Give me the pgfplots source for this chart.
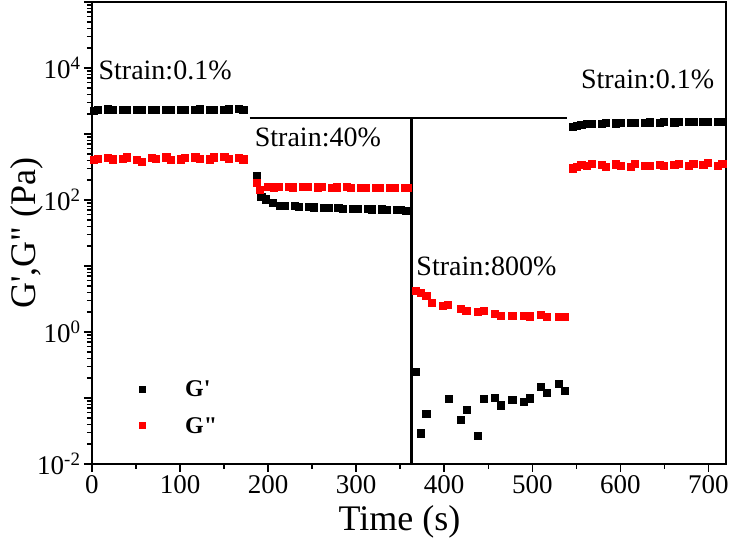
\documentclass[border=0pt]{standalone}
\usepackage{fontspec}
\setmainfont{Liberation Serif}
\usepackage{pgfplots}
\pgfplotsset{compat=1.18}
\usetikzlibrary{calc}
\begin{document}
\begin{tikzpicture}
\begin{axis}[name=ax, scale only axis, width=634pt, height=462pt,
  ymode=log, xmin=0, xmax=720, ymin=1e-2, ymax=1e5,
  axis line style={line width=2.5pt},
  tick style={line width=1.5pt, black},
  major tick length=8pt, minor tick length=5pt,
  tick align=outside, xtick pos=left, ytick pos=left,
  xtick={0,100,200,300,400,500,600,700},
  minor xtick={50,150,250,350,450,550,650},
  ytick={1e-2,1e-1,1e0,1e1,1e2,1e3,1e4,1e5},
  yticklabels={10\textsuperscript{-2},,10\textsuperscript{0},,10\textsuperscript{2},,10\textsuperscript{4},},
  minor ytick={0.02,0.03,0.04,0.05,0.06,0.07,0.08,0.09,
    0.2,0.3,0.4,0.5,0.6,0.7,0.8,0.9,
    2,3,4,5,6,7,8,9,
    20,30,40,50,60,70,80,90,
    200,300,400,500,600,700,800,900,
    2000,3000,4000,5000,6000,7000,8000,9000,
    20000,30000,40000,50000,60000,70000,80000,90000},
  /pgf/number format/assume math mode=true,
  ticklabel style={font=\fontsize{27}{30}\selectfont},
  xlabel={Time (s)}, ylabel={G\textquotesingle,G\textquotedbl{} (Pa)},
  label style={font=\fontsize{36}{40}\selectfont},
  xlabel style={at={(axis description cs:0.485,-0.1255)}, anchor=center},
  ylabel style={at={(axis description cs:-0.1025,0.5)}, anchor=center},
  legend style={at={(rel axis cs:0.074,0.185)}, anchor=north west, draw=none, fill=none,
    font=\bfseries\fontsize{24}{28}\selectfont, row sep=15pt, inner sep=0pt,
    /tikz/every odd column/.append style={column sep=38pt}},
  legend image code/.code={\draw[#1, mark size=3pt] plot coordinates {(0pt,0pt)};},
  legend cell align=left,
]
% annotation lines
\addplot[black, line width=2pt, no marks, forget plot] coordinates {(179,1750) (539,1750)};
\addplot[black, line width=2.5pt, no marks, forget plot] coordinates {(363,1750) (363,0.01)};
% G'
\addplot[only marks, mark=square*, black, mark size=3.6pt, mark options={line width=0pt}] coordinates {
(2,2250)(7,2300)(18.5,2350)(23.5,2300)(35,2300)(40,2320)(51.5,2330)(56.5,2300)(68,2310)(73,2330)
(84.5,2300)(89.5,2340)(101,2320)(106,2310)(117.5,2330)(122.5,2350)(134,2340)(139,2320)(150.5,2330)(155.5,2350)
(167,2360)(172,2340)
(187,230)(192.6,112)(198,102)(205.8,89)(214,82)(219,81)(230.5,80)(235.5,79)(247,78)(252,77)
(263.5,76)(268.5,76)(280,75)(285,74)(296.5,74)(301.5,73)(313,73)(318,72)(329.5,72)(334.5,71)(346,70)(351,70)(357,69)
(367.8,0.25)(373.4,0.029)(379.9,0.057)(405.6,0.097)(419.2,0.047)(425.6,0.065)(438.1,0.0265)(445.3,0.097)
(457.8,0.101)(464.6,0.077)(477.5,0.092)(490.4,0.086)(497.5,0.098)(510.3,0.145)(516.7,0.12)(530.1,0.161)(536.9,0.128)
(546,1290)(551,1330)(556,1370)(562.5,1400)(567.5,1420)(579,1430)(584,1450)(595.5,1440)(600.5,1460)(612,1470)
(617,1450)(628.5,1480)(633.5,1490)(645,1470)(650,1500)(661.5,1490)(666.5,1510)(678,1500)(683,1520)(694.5,1500)
(699.5,1530)(711,1520)(716,1540)
};
% G''
\addplot[only marks, mark=square*, red, mark size=3.6pt, mark options={line width=0pt}] coordinates {
(2,400)(7,420)(18.5,430)(23.5,410)(35,420)(40,440)(51.5,400)(56.5,380)(68,430)(73,420)
(84.5,440)(89.5,400)(101,410)(106,430)(117.5,440)(122.5,420)(134,410)(139,440)(150.5,450)(155.5,420)
(167,430)(172,410)
(187,179)(190.7,141)(200,158)(207,155)(212,156)(223.5,156)(228.5,155)(240,157)(245,156)(256.5,155)(261.5,156)
(273,154)(278,155)(289.5,156)(294.5,154)(306,153)(311,154)(322.5,152)(327.5,153)(339,152)(344,151)(355.5,150)(359,151)
(367.8,4.23)(373.4,3.86)(379.9,3.51)(386.3,2.78)(398.8,2.48)(404.5,2.54)(418.8,2.21)(425.3,2.10)(438.5,2.03)
(445.3,2.10)(457.8,1.87)(464.6,1.75)(477.5,1.75)(490.4,1.75)(497.2,1.72)(510.3,1.80)(516.7,1.67)(530.1,1.67)(536.9,1.67)
(546,300)(551,320)(556,340)(562.5,330)(567.5,350)(579,340)(584,320)(595.5,345)(600.5,330)(612,320)
(617,350)(628.5,330)(633.5,330)(645,340)(650,330)(661.5,340)(666.5,350)(678,330)(683,350)(694.5,340)
(699.5,360)(711,330)(716,350)
};
\legend{{G\textquotesingle},{G\textquotedbl}}
\node[font=\fontsize{28}{32}\selectfont] at (axis cs:83,9300) {Strain:0.1\%};
\node[font=\fontsize{28}{32}\selectfont] at (axis cs:256.5,875) {Strain:40\%};
\node[font=\fontsize{28}{32}\selectfont] at (axis cs:448,9.7) {Strain:800\%};
\node[font=\fontsize{28}{32}\selectfont] at (axis cs:631,6800) {Strain:0.1\%};
\end{axis}
\pgfresetboundingbox
\path[use as bounding box] ($(ax.south west)+(-92pt,-83pt)$) rectangle ($(ax.north east)+(4pt,2pt)$);
\end{tikzpicture}
\end{document}
